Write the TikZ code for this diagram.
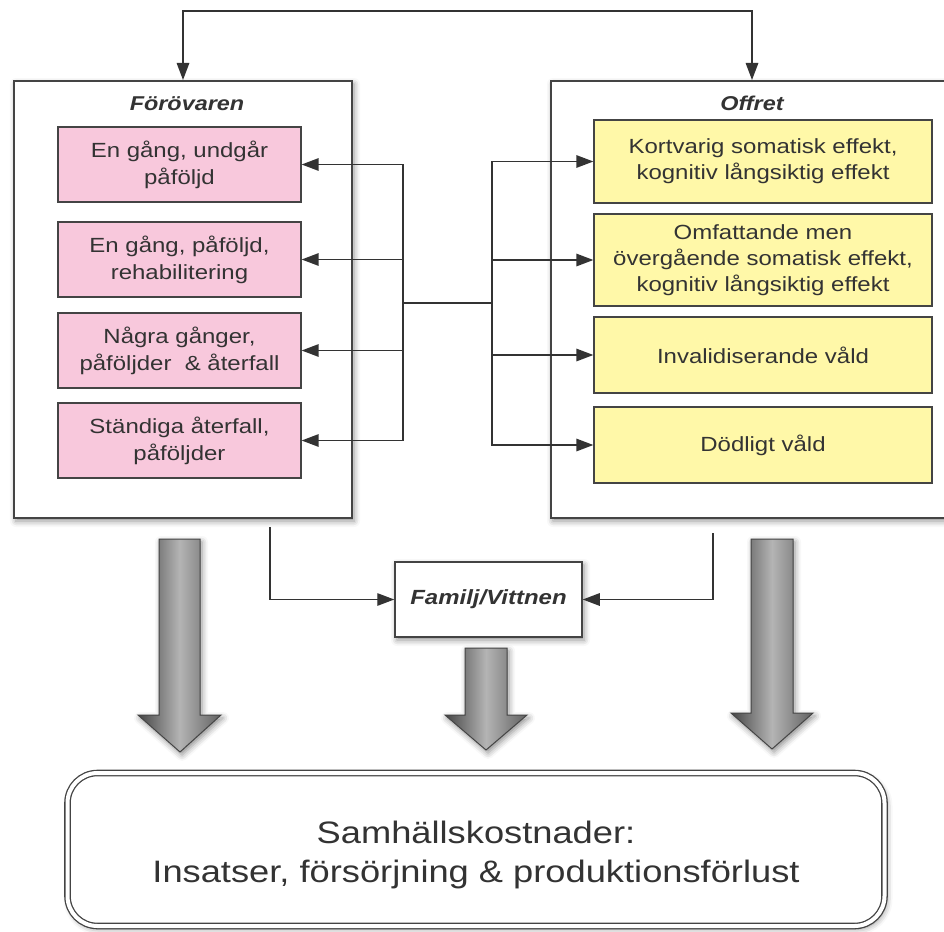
\documentclass[tikz,border=0pt]{standalone}
\usepackage{fontspec}
\setmainfont{Liberation Sans}[FakeStretch=1.17]
\usetikzlibrary{arrows.meta,shadows.blur}
\definecolor{pinkf}{HTML}{F8C8DC}
\definecolor{yelf}{HTML}{FFF8A8}
\definecolor{edge}{HTML}{444444}
\definecolor{txt}{HTML}{333333}
\definecolor{ardark}{HTML}{454545}
\definecolor{arlight}{HTML}{B4B4B4}
\begin{document}
\begin{tikzpicture}[x=1pt,y=-1pt,
  softshadow/.style={blur shadow={shadow xshift=2pt,shadow yshift=-3pt,shadow blur radius=6pt,shadow opacity=45}},
  bigbox/.style={draw=edge,line width=2pt,fill=white,minimum height=437pt,inner sep=0pt,softshadow},
  pinkbox/.style={draw=edge,line width=1.3pt,fill=pinkf,minimum width=243pt,minimum height=75pt,inner sep=0pt,align=center,text=txt,font=\fontsize{20.5}{27}\selectfont},
  yelbox/.style={draw=edge,line width=1.3pt,fill=yelf,minimum width=338pt,inner sep=0pt,align=center,text=txt,font=\fontsize{20.5}{26}\selectfont},
  titletext/.style={text=txt,inner sep=0pt,font=\fontsize{20}{24}\selectfont\bfseries\itshape},
  fambox/.style={draw=edge,line width=1.5pt,fill=white,minimum width=187pt,minimum height=75pt,inner sep=0pt,text=txt,font=\fontsize{20.5}{24}\selectfont\bfseries\itshape,softshadow},
  botbox/.style={draw=edge,line width=1.3pt,double=white,double distance=4pt,rounded corners=30pt,fill=white,minimum width=817pt,minimum height=153pt,inner sep=0pt,softshadow},
  bottext/.style={text=txt,align=center,inner sep=0pt,font=\fontsize{31}{39}\selectfont},
  conn/.style={draw=txt,line width=1.4pt},
  tip/.style={-{Triangle[length=17pt,width=12.5pt]}},
  tips/.style={{Triangle[length=17pt,width=12.5pt]}-{Triangle[length=17pt,width=12.5pt]}},
  bigarrow/.style={draw=ardark,line width=1pt,left color=ardark,right color=ardark!85,middle color=arlight,softshadow}
]
\useasboundingbox (0,0) rectangle (944,931);

% big containers
\node[bigbox,minimum width=338pt] (perp) at (183,299.5) {};
\node[bigbox,minimum width=434pt] (vic) at (768,299.5) {};
\node[titletext] (ptitle) at (187,104) {Förövaren};
\node[titletext] (vtitle) at (752,103) {Offret};

% perpetrator boxes
\node[pinkbox] (pk1) at (179.5,164.5) {En gång, undgår\\påföljd};
\node[pinkbox] (pk2) at (179.5,259.5) {En gång, påföljd,\\rehabilitering};
\node[pinkbox] (pk3) at (179.5,350.5) {Några gånger,\\påföljder\ \ \& återfall};
\node[pinkbox] (pk4) at (179.5,440.5) {Ständiga återfall,\\påföljder};

% victim boxes
\node[yelbox,minimum height=83pt] (y1) at (763,161.5) {Kortvarig somatisk effekt,\\kognitiv långsiktig effekt};
\node[yelbox,minimum height=92pt] (y2) at (763,260) {Omfattande men\\övergående somatisk effekt,\\kognitiv långsiktig effekt};
\node[yelbox,minimum height=76pt] (y3) at (763,355) {Invalidiserande våld};
\node[yelbox,minimum height=76pt] (y4) at (763,445) {Dödligt våld};

% top connector
\draw[conn,tips] (perp.north) -- ++(0,-69) -| ([xshift=-16pt]vic.north);

% hub
\coordinate (hl) at (403,303);
\coordinate (hr) at (492,303);
\draw[conn] (hl) -- (hr);
\foreach \n in {pk1,pk2,pk3,pk4} \draw[conn,tip] (hl) |- (\n.east);
\foreach \n in {y1,y2,y3,y4} \draw[conn,tip] (hr) |- (\n.west);

% family / witnesses
\node[fambox] (fam) at (488.5,599.5) {Familj/Vittnen};
\coordinate (fl) at ([xshift=87pt,yshift=-8pt]perp.south);
\coordinate (fr) at ([xshift=-55pt,yshift=-14pt]vic.south);
\draw[conn,tip] (fl) |- (fam.west);
\draw[conn,tip] (fr) |- (fam.east);

% big gray arrows
\path[bigarrow] (159,539) -- (200,539) -- (200,715) -- (221,715) -- (180,752) -- (138,715) -- (159,715) -- cycle;
\path[bigarrow] (465,648) -- (507,648) -- (507,715) -- (527,715) -- (486,750) -- (445,715) -- (465,715) -- cycle;
\path[bigarrow] (751,539) -- (793,539) -- (793,713) -- (813,713) -- (772,749) -- (731,713) -- (751,713) -- cycle;

% society costs
\node[botbox] (bot) at (476,849.5) {};
\node[bottext] (botlabel) at (476,855) {Samhällskostnader:\\Insatser, försörjning \& produktionsförlust};
\end{tikzpicture}
\end{document}
